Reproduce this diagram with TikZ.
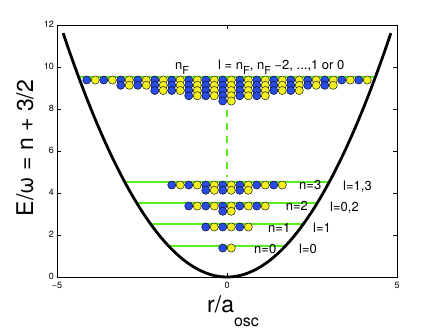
\documentclass[tikz,border=0pt]{standalone}
\usepackage{fontspec}
\setmainfont{TeX Gyre Heros}
\definecolor{dotblue}{RGB}{40,75,228}
\definecolor{dotyellow}{RGB}{242,240,30}
\definecolor{lvlgreen}{RGB}{90,238,25}
\newcommand{\mysub}[1]{\raisebox{-5pt}{\fontsize{11}{11}\selectfont #1}}
\newcommand{\dotrow}[3]{%
  \pgfmathtruncatemacro\mydotN{2*(2*#3+1)}%
  \foreach \i in {1,...,\mydotN}{%
    \pgfmathsetmacro\mydx{0.25*(\i-2*#3-2)+0.125}%
    \pgfmathsetmacro\mydy{#1+1.38-0.25*#2}%
    \ifodd\i \def\mydc{dotblue}\else \def\mydc{dotyellow}\fi
    \filldraw[fill=\mydc, draw=black, line width=0.4pt] (\mydx,\mydy) circle[radius=4.1pt];
  }}
\tikzset{
  lbl/.style={font=\fontsize{13}{13}\selectfont, inner sep=0pt, anchor=base west},
  ticklbl/.style={font=\fontsize{9}{9}\selectfont, inner sep=0pt},
  axlbl/.style={font=\fontsize{23}{23}\selectfont, inner sep=0pt},
  level/.style={draw=lvlgreen, line width=2pt},
  fermi/.style={draw=lvlgreen, line width=2pt, dash pattern=on 7pt off 6pt},
  well/.style={draw=black, line width=2.8pt},
  axbox/.style={draw=black, line width=0.5pt},
}
\begin{document}
\begin{tikzpicture}
\useasboundingbox (0,0) rectangle (438pt,329pt);
\begin{scope}[shift={(227pt,52pt)}, x=34pt, y=21pt]
  % levels
  \foreach \E in {1.5,2.5,3.5,4.5,9.5}{
    \draw[level] ({-sqrt(2*\E)},\E) -- ({sqrt(2*\E)},\E);
  }
  \coordinate (dtop) at (0,7.95);
  \coordinate (dbot) at (0,4.75);
  \draw[fermi] (dtop) -- (dbot);
  % occupied states
  \dotrow{0}{0}{0}
  \dotrow{1}{0}{1}
  \dotrow{2}{0}{2}
  \dotrow{2}{1}{0}
  \dotrow{3}{0}{3}
  \dotrow{3}{1}{1}
  \dotrow{8}{0}{8}
  \dotrow{8}{1}{6}
  \dotrow{8}{2}{4}
  \dotrow{8}{3}{2}
  \dotrow{8}{4}{0}
  % potential
  \draw[well] plot[domain=-4.82:4.82, samples=121, smooth] (\x,{\x*\x/2});
  % axes
  \draw[axbox] (-5,0) rectangle (5,12);
  \foreach \v in {0,2,...,12}{
    \draw[axbox] (-5,\v) -- ++(4pt,0);
    \draw[axbox] (5,\v) -- ++(-4pt,0);
    \node[ticklbl, anchor=east] (yt\v) at ([xshift=-3pt,yshift=1pt]-5,\v) {\v};
  }
  \foreach \u/\t in {-5/{−5},0/0,5/5}{
    \draw[axbox] (\u,0) -- ++(0,4pt);
    \draw[axbox] (\u,12) -- ++(0,-4pt);
    \node[ticklbl, anchor=north] (xt\u) at ([yshift=-5pt]\u,0) {\t};
  }
\end{scope}
% labels
\node[lbl] (nF) at (175pt,259.5pt) {n\mysub{F}};
\node[lbl] (lF) at (218pt,259.5pt) {l = n\mysub{F}, n\mysub{F} −2, ...,1 or 0};
\node[lbl] (n3) at (299pt,139pt) {n=3};
\node[lbl] (l3) at (343pt,138pt) {l=1,3};
\node[lbl] (n2) at (285.7pt,118.3pt) {n=2};
\node[lbl] (l2) at (330pt,117.5pt) {l=0,2};
\node[lbl] (n1) at (268pt,96.3pt) {n=1};
\node[lbl] (l1) at (313pt,96pt) {l=1};
\node[lbl] (n0) at (254pt,75.7pt) {n=0};
\node[lbl] (l0) at (299pt,75.5pt) {l=0};
\node[axlbl, rotate=90] (ylab) at (25pt,181pt) {E/ω = n + 3/2};
\node[axlbl, anchor=base west] (xlab) at (207pt,16.3pt) {r/a\raisebox{-14pt}{\fontsize{16}{16}\selectfont osc}};
\end{tikzpicture}
\end{document}
